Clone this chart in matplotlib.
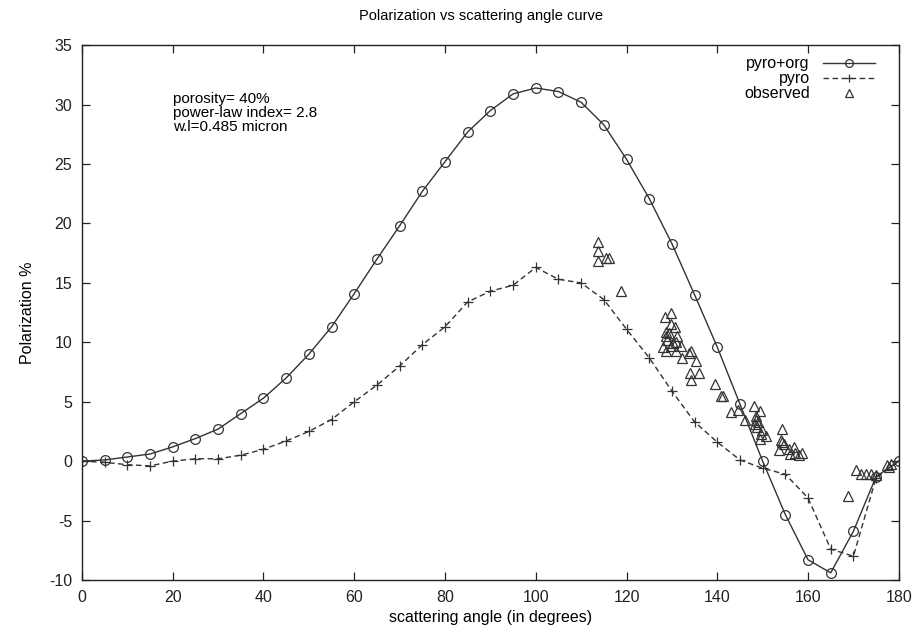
import numpy as np
import matplotlib.pyplot as plt

plt.rcParams['font.family'] = ['Liberation Sans', 'DejaVu Sans']
plt.rcParams['axes.unicode_minus'] = False

# curva pyro+org (circulos)
ang = [0, 5, 10, 15, 20, 25, 30, 35, 40, 45, 50, 55, 60, 65, 70, 75, 80, 85, 90,
       95, 100, 105, 110, 115, 120, 125, 130, 135, 140, 145, 150, 155, 160, 165,
       170, 175, 180]
pol_org = [0.0, 0.1, 0.35, 0.6, 1.2, 1.9, 2.7, 4.0, 5.3, 7.0, 9.0, 11.3, 14.1,
           17.0, 19.8, 22.7, 25.2, 27.7, 29.5, 30.9, 31.4, 31.1, 30.2, 28.3,
           25.4, 22.1, 18.3, 14.0, 9.6, 4.8, 0.0, -4.5, -8.3, -9.4, -5.9, -1.3, 0.0]

# curva pyro (cruces)
pol_pyro = [0.0, -0.1, -0.3, -0.4, 0.0, 0.2, 0.2, 0.5, 1.0, 1.7, 2.5, 3.5, 5.0,
            6.4, 8.0, 9.8, 11.3, 13.4, 14.3, 14.8, 16.3, 15.3, 15.0, 13.6,
            11.1, 8.7, 5.9, 3.3, 1.6, 0.1, -0.6, -1.1, -3.1, -7.4, -8.0, -1.4, 0.0]

# datos observados (triangulos)
obs_x = [113.8, 113.8, 113.8, 115.5, 116.2, 118.7, 129.8, 128.5, 129.8, 130.7,
         128.8, 131.2, 129.0, 130.9, 128.1, 129.9, 132.1, 128.8, 131.0, 134.2,
         133.8, 132.3, 135.4, 134.0, 136.0, 134.2, 139.4, 140.8, 141.3, 143.1,
         144.6, 148.1, 149.4, 146.1, 148.5, 148.3, 148.8, 149.9, 149.6, 150.8,
         149.4, 154.3, 154.0, 154.7, 153.6, 155.7, 156.8, 157.1, 156.0, 158.6,
         158.0, 154.2, 170.5, 171.6, 172.8, 173.8, 174.9, 168.9, 177.4, 178.2,
         177.8, 129.3, 130.2, 128.6, 148.6, 149.0]
obs_y = [18.4, 17.7, 16.8, 17.1, 17.1, 14.3, 12.5, 12.1, 11.55, 11.3,
         10.5, 10.5, 10.2, 10.06, 9.6, 9.7, 9.7, 9.3, 9.3, 9.27,
         9.1, 8.7, 8.4, 7.45, 7.45, 6.8, 6.5, 5.5, 5.5, 4.1,
         4.3, 4.6, 4.2, 3.5, 3.46, 3.1, 2.9, 2.6, 2.25, 2.1,
         1.85, 2.7, 1.77, 1.43, 0.93, 0.99, 1.15, 0.65, 0.6, 0.65,
         0.5, 1.6, -0.76, -1.04, -1.04, -1.1, -1.18, -2.9, -0.34, -0.2,
         -0.48, 10.8, 9.9, 10.9, 3.8, 3.3]

fig = plt.figure(figsize=(9.19, 6.42), dpi=100)
ax = fig.add_axes([0.0892, 0.0966, 0.8888, 0.833])

col = '#333333'
ax.plot(ang, pol_org, '-', color=col, lw=1.0, marker='o', ms=7,
        mfc='none', mec=col, mew=0.9, label='pyro+org')
ax.plot(ang, pol_pyro, '--', color=col, lw=1.0, dashes=(4, 2.5), marker='+',
        ms=7, mec=col, mew=0.9, label='pyro')
ax.plot(obs_x, obs_y, ls='none', marker='^', ms=7, mfc='none', mec=col,
        mew=0.9, label='observed')

ax.set_xlim(0, 180)
ax.set_ylim(-10, 35)
ax.set_xticks(np.arange(0, 181, 20))
ax.set_yticks(np.arange(-10, 36, 5))
ax.tick_params(direction='in', length=6, width=0.9, top=True, right=True,
               labelsize=11.5, pad=7, colors='#222222')
for s in ax.spines.values():
    s.set_linewidth(1.0)
    s.set_color('#222222')

ax.set_xlabel('scattering angle (in degrees)', fontsize=11.5, labelpad=4)
ax.set_ylabel('Polarization %', fontsize=11.5, labelpad=10)
fig.text(0.523, 0.975, 'Polarization vs scattering angle curve', fontsize=10.5,
         ha='center', va='center')

ax.text(0.112, 0.913, 'porosity= 40%\npower-law index= 2.8\nw.l=0.485 micron',
        transform=ax.transAxes, fontsize=11, va='top', ha='left',
        linespacing=1.0)

leg = ax.legend(loc='upper right', frameon=False, markerfirst=False,
                fontsize=11.5, handlelength=3.3, labelspacing=0.0,
                borderaxespad=0.3, handletextpad=0.8,
                bbox_to_anchor=(0.985, 1.0), markerscale=0.8)
for t in leg.get_texts():
    t.set_ha('right')
leg._legend_box.align = 'right'

plt.savefig('out.png', dpi=100)
